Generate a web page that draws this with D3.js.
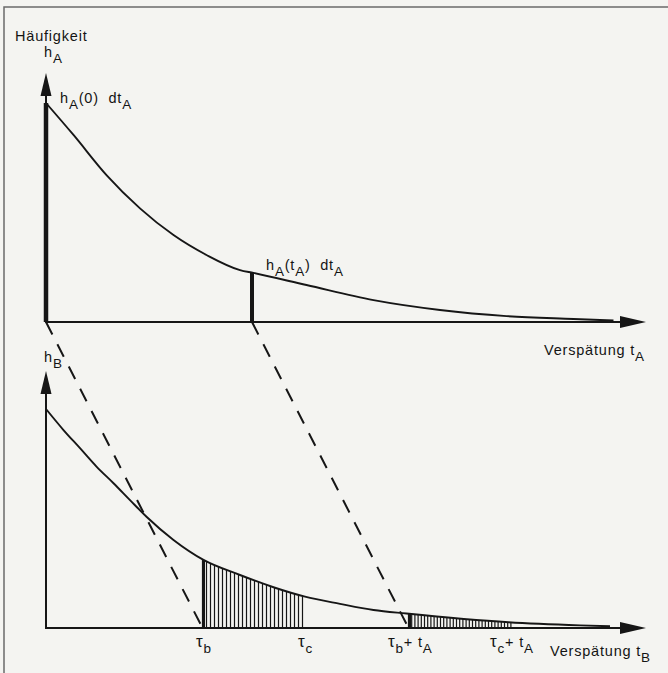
<!DOCTYPE html>
<html>
<head>
<meta charset="utf-8">
<script src="https://cdn.jsdelivr.net/npm/d3@7"></script>
<style>
  html, body { margin: 0; padding: 0; background: #f4f4f1; }
  svg { display: block; }
  text { font-family: "Liberation Sans", Arial, Helvetica, sans-serif; font-size: 14.5px; fill: #141414; letter-spacing: 0.8px; }
</style>
</head>
<body>
<svg width="668" height="673"></svg>
<script>
// upper curve h_A(t_A) (h in % of h_A(0))
const curveAT = [0, 0.55, 1.21, 1.88, 2.55, 3.21, 3.88, 4.15, 5.21, 6.55, 7.88, 9.21, 10.55, 11.35];
const curveAH = [100, 85.4, 67.1, 51.9, 39.7, 30.6, 23.7, 22.4, 16.9, 10.0, 5.5, 2.7, 1.4, 0.7];

// lower curve h_B(t_B)
const curveBT = [0, 0.35, 0.68, 1.01, 1.35, 1.68, 2.01, 2.55, 3.15, 3.88, 4.55, 5.18, 5.88, 6.55, 7.21, 9.25, 10.68, 11.28];
const curveBH = [100, 90.4, 82.1, 73.7, 66.1, 58.4, 50.8, 40.2, 31.1, 24.2, 18.6, 14.3, 11.0, 8.2, 6.6, 2.6, 1.2, 0.8];

// marked delays
const tA = 4.12;
const tauB = 3.13;
const tauC = 5.17;

const svg = d3.select("svg");
const INK = "#161616";

const x = d3.scaleLinear().domain([0, 12]).range([46, 646]);
const yA = d3.scaleLinear().domain([0, 100]).range([322, 103]);
const yB = d3.scaleLinear().domain([0, 100]).range([628, 409]);

const dataA = curveAT.map((t, i) => ({t: t, h: curveAH[i]}));
const dataB = curveBT.map((t, i) => ({t: t, h: curveBH[i]}));

// frame of the scanned figure
svg.append("path")
    .attr("d", "M4,673V7H668")
    .attr("fill", "none")
    .attr("stroke", "#6a6a6a")
    .attr("stroke-width", 1.5);

const defs = svg.append("defs");

function underCurve(id, data, y) {
    defs.append("clipPath").attr("id", id)
        .append("path")
        .attr("d", d3.area()
            .x(d => x(d.t))
            .y0(y(0))
            .y1(d => y(d.h))
            .curve(d3.curveMonotoneX)(data));
}
underCurve("clipA", dataA, yA);
underCurve("clipB", dataB, yB);

function axes(y, yTip) {
    // horizontal axis with arrow
    svg.append("line")
        .attr("x1", x(0)).attr("x2", x(12) - 22)
        .attr("y1", y(0)).attr("y2", y(0))
        .attr("stroke", INK).attr("stroke-width", 2);
    svg.append("path")
        .attr("d", `M${x(12)},${y(0)}L${x(12) - 26},${y(0) - 6}L${x(12) - 26},${y(0) + 6}Z`)
        .attr("fill", INK);
    // vertical axis with arrow
    svg.append("line")
        .attr("x1", x(0)).attr("x2", x(0))
        .attr("y1", y(0) + 1).attr("y2", yTip + 20)
        .attr("stroke", INK).attr("stroke-width", 2);
    svg.append("path")
        .attr("d", `M${x(0)},${yTip}L${x(0) - 5.5},${yTip + 23}L${x(0) + 5.5},${yTip + 23}Z`)
        .attr("fill", INK);
}
axes(yA, 73);
axes(yB, 371);

// dashed projections t_A -> t_B
const dashed = [[0, tauB], [tA, tauB + tA]];
svg.selectAll(".proj")
    .data(dashed)
    .enter().append("line")
    .attr("class", "proj")
    .attr("x1", d => x(d[0])).attr("y1", yA(0))
    .attr("x2", d => x(d[1])).attr("y2", yB(0))
    .attr("stroke", INK)
    .attr("stroke-width", 2)
    .attr("stroke-dasharray", "14,11");

// hatched regions under h_B
const hatch = [
    {from: tauB, to: tauC, step: 4},
    {from: tauB + tA, to: tauC + tA, step: 3.2}
];
hatch.forEach(r => {
    const g = svg.append("g").attr("clip-path", "url(#clipB)");
    g.selectAll("line")
        .data(d3.range(x(r.from), x(r.to) + 0.5, r.step))
        .enter().append("line")
        .attr("x1", d => d).attr("x2", d => d)
        .attr("y1", yB(0)).attr("y2", yB(100))
        .attr("stroke", INK)
        .attr("stroke-width", 1.2);
    g.append("line")
        .attr("x1", x(r.from) + 1).attr("x2", x(r.from) + 1)
        .attr("y1", yB(0)).attr("y2", yB(100))
        .attr("stroke", INK)
        .attr("stroke-width", 3);
});

// bars h_A(0) dt_A and h_A(t_A) dt_A
svg.append("line")
    .attr("x1", x(0)).attr("x2", x(0))
    .attr("y1", yA(0)).attr("y2", yA(100))
    .attr("stroke", INK).attr("stroke-width", 4.5);
svg.append("g").attr("clip-path", "url(#clipA)")
    .append("line")
    .attr("x1", x(tA)).attr("x2", x(tA))
    .attr("y1", yA(0)).attr("y2", yA(100))
    .attr("stroke", INK).attr("stroke-width", 4);

// curves
const line = (y) => d3.line().x(d => x(d.t)).y(d => y(d.h)).curve(d3.curveMonotoneX);
svg.append("path").datum(dataA)
    .attr("d", line(yA))
    .attr("fill", "none").attr("stroke", INK).attr("stroke-width", 1.9);
svg.append("path").datum(dataB)
    .attr("d", line(yB))
    .attr("fill", "none").attr("stroke", INK).attr("stroke-width", 1.9);

// labels: [text, kind] kind 0 normal, 1 subscript, 2 greek
const labels = [
    {x: 15, y: 41, parts: [["Häufigkeit", 0]]},
    {x: 44, y: 57, parts: [["h", 0], ["A", 1]]},
    {x: 60, y: 103, parts: [["h", 0], ["A", 1], ["(0)  dt", 0], ["A", 1]]},
    {x: 266, y: 270, parts: [["h", 0], ["A", 1], ["(t", 0], ["A", 1], [")  dt", 0], ["A", 1]]},
    {x: 544, y: 355, parts: [["Verspätung t", 0], ["A", 1]]},
    {x: 44, y: 362, parts: [["h", 0], ["B", 1]]},
    {x: 196, y: 647, parts: [["τ", 2], ["b", 1]]},
    {x: 298, y: 647, parts: [["τ", 2], ["c", 1]]},
    {x: 388, y: 647, parts: [["τ", 2], ["b", 1], ["+ t", 0], ["A", 1]]},
    {x: 490, y: 647, parts: [["τ", 2], ["c", 1], ["+ t", 0], ["A", 1]]},
    {x: 550, y: 656, parts: [["Verspätung t", 0], ["B", 1]]}
];

const sizes = [null, "13.5px", "17px"];
labels.forEach(l => {
    const t = svg.append("text")
        .attr("x", l.x).attr("y", l.y)
        .attr("xml:space", "preserve");
    let shift = 0;
    l.parts.forEach(p => {
        const target = p[1] === 1 ? 6 : 0;
        t.append("tspan")
            .attr("dy", target - shift)
            .style("font-size", sizes[p[1]])
            .text(p[0]);
        shift = target;
    });
});
</script>
</body>
</html>
